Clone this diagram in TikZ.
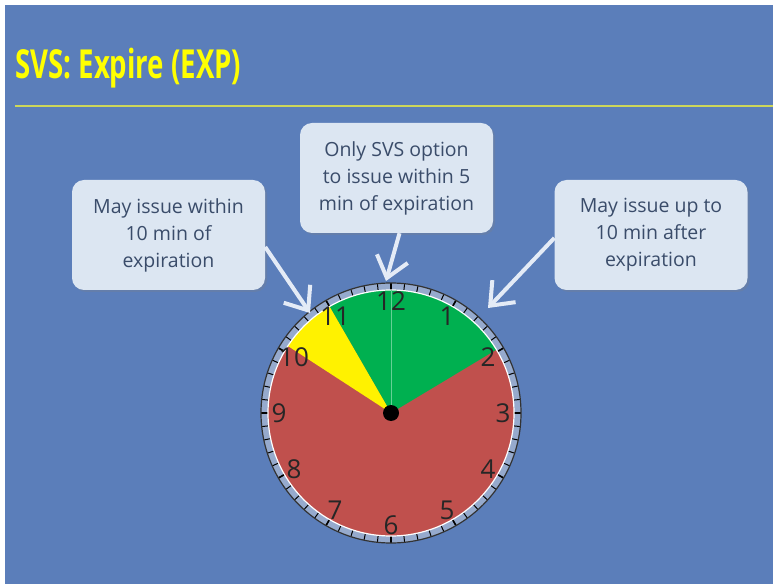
\documentclass[tikz,border=0pt]{standalone}
\usepackage{fontspec}
\setmainfont{Open Sans}
\newfontfamily\titlefont[FakeStretch=0.69]{Open Sans}
\usetikzlibrary{arrows.meta,shadows}
\definecolor{slideblue}{RGB}{91,126,186}
\definecolor{boxfill}{RGB}{220,230,242}
\definecolor{boxtext}{RGB}{58,76,106}
\definecolor{clockred}{RGB}{192,80,77}
\definecolor{clockgreen}{RGB}{0,176,80}
\definecolor{titleyellow}{RGB}{255,255,0}
\definecolor{rulecol}{RGB}{205,215,90}
\definecolor{arrowcol}{RGB}{228,235,246}
\definecolor{ringcol}{RGB}{150,170,205}

\begin{document}
\begin{tikzpicture}[x=1pt, y=1pt,
    callout/.style={rectangle, rounded corners=12pt, fill=boxfill, minimum width=193pt, minimum height=110pt, align=center, text=boxtext, font=\fontsize{19.5}{27}\selectfont, drop shadow={opacity=0.25, shadow xshift=2pt, shadow yshift=-2pt}},
    pointer/.style={draw=arrowcol, line width=4pt, -{Straight Barb[length=20pt, width=32pt]}},
    numeral/.style={font=\fontsize{26}{26}\selectfont, text=black!85, inner sep=0pt}
]
  % Slide background
  \fill[white] (0,0) rectangle (773,584);
  \fill[slideblue] (5,0) rectangle (773,579);
  \useasboundingbox (0,0) rectangle (773,584);

  % Title
  \node[anchor=base west, inner sep=0pt, text=titleyellow, font=\titlefont\bfseries\fontsize{40}{40}\selectfont] (title) at (15,505) {SVS: Expire (EXP)};
  \draw[rulecol, line width=1.5pt] (15,478) -- (773,478);

  % Clock
  \begin{scope}[shift={(391,171)}]
    \coordinate (c) at (0,0);
    \fill[ringcol] (c) circle (130);
    \foreach \m in {0,...,59}
      \draw[line width=1pt] (\m*6:123) -- (\m*6:130);
    \foreach \m in {0,...,11}
      \draw[line width=1.6pt] (\m*30:123) -- (\m*30:130);
    \draw[black!80, line width=1.2pt] (c) circle (130);
    \fill[clockred] (c) circle (123);
    \fill[clockgreen] (c) -- (120:123) arc[start angle=120, end angle=31, radius=123] -- cycle;
    \fill[yellow] (c) -- (147:123) arc[start angle=147, end angle=120, radius=123] -- cycle;
    \draw[white, line width=1.2pt] (c) circle (123);
    \draw[clockgreen!60!white, line width=0.8pt] (c) -- (90:123);
    \foreach \h in {1,...,12}
      \node[numeral] (h\h) at ({90-30*\h}:112) {\h};
    \fill[black] (c) circle (8);
  \end{scope}

  % Callouts
  \node[callout] (within10) at (168.5,349) {May issue within\\10 min of\\expiration};
  \node[callout] (within5) at (396.5,406) {Only SVS option\\to issue within 5\\min of expiration};
  \node[callout] (after10) at (651,349) {May issue up to\\10 min after\\expiration};

  % Pointers
  \coordinate (t1) at (310,271);
  \coordinate (t2) at (386,303);
  \coordinate (t3) at (488,276);
  \draw[pointer] ([yshift=-12pt]within10.east) -- (t1);
  \draw[pointer] ([xshift=3pt]within5.south) -- (t2);
  \draw[pointer] ([yshift=-3pt]after10.west) -- (t3);
\end{tikzpicture}
\end{document}
